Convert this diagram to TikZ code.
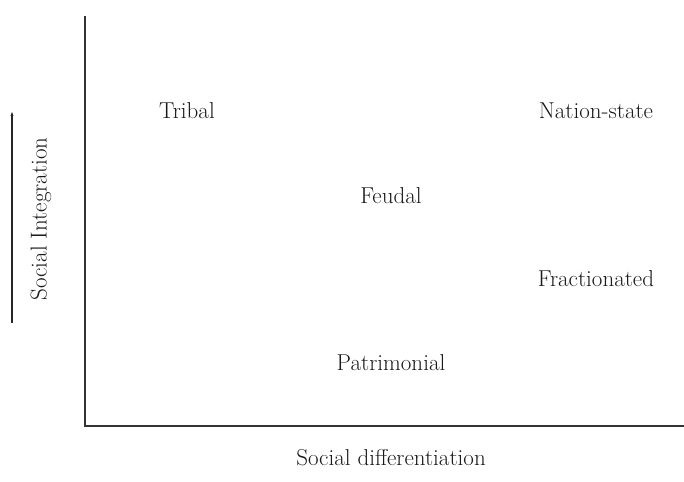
\documentclass[tikz,border=0pt]{standalone}
\usetikzlibrary{arrows.meta}
\begin{document}
\begin{tikzpicture}[x=1pt,y=-1pt,
  lbl/.style={font=\fontsize{23}{26}\selectfont, text=black!90, inner sep=0pt},
  axis/.style={draw=black!80, line width=1.8pt}]
\useasboundingbox (0,0) rectangle (684,481);
\coordinate (top) at (85,16);
\coordinate (corner) at (85,426);
\coordinate (right) at (684,426);
\draw[axis] (top) -- (corner) -- (right);
\coordinate (abot) at (12,323);
\coordinate (atop) at (12,112);
\draw[draw=black!85, line width=1.2pt, -{Stealth[length=4pt,width=3pt]}] (abot) -- (atop);
\node[lbl, rotate=90] (yl) at (41,219) {Social Integration};
\node[lbl] (xl) at (391,458) {Social differentiation};
\node[lbl] (tribal) at (187,111) {Tribal};
\node[lbl] (nation) at (596,111) {Nation-state};
\node[lbl] (feudal) at (391,196) {Feudal};
\node[lbl] (fract) at (596,279) {Fractionated};
\node[lbl] (patri) at (391,363) {Patrimonial};
\end{tikzpicture}
\end{document}
